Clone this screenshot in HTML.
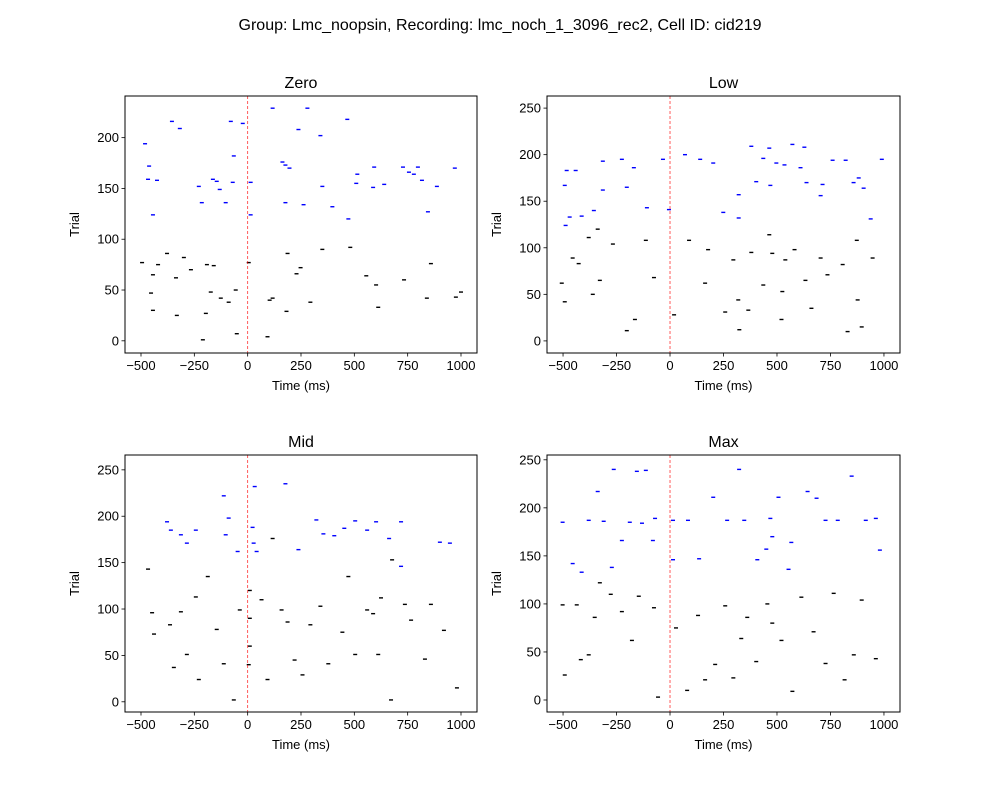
<!DOCTYPE html>
<html><head><meta charset="utf-8"><style>
body{margin:0;background:#fff}
svg text{font-family:"Liberation Sans","DejaVu Sans",sans-serif;fill:#000}
</style></head><body>
<svg id="fig" width="1000" height="800" xmlns="http://www.w3.org/2000/svg">
<rect width="1000" height="800" fill="#fff"/>
<text x="500" y="30" text-anchor="middle" font-size="16">Group: Lmc_noopsin, Recording: lmc_noch_1_3096_rec2, Cell ID: cid219</text>
</svg>
<script>
const xTicks=[-500,-250,0,250,500,750,1000];
const panelTitles=["Zero","Low","Mid","Max"];
const zeroBlue=[[-481,194],[-462,172],[-467,159],[-425,158],[-444,124],[-355,216],[-318,209],[-229,152],[-215,136],[-163,159],[-145,157],[-131,149],[-103,136],[-79,216],[-65,182],[-23,214],[-70,156],[14,156],[14,124],[117,229],[163,176],[177,173],[177,136],[238,208],[280,229],[262,134],[341,202],[350,152],[397,132],[467,218],[472,120],[509,155],[514,164],[588,151],[593,171],[640,154],[728,171],[756,166],[798,171],[817,158],[845,127],[887,152],[971,170],[779,164],[196,170]];
const zeroBlack=[[-495,77],[-444,65],[-420,75],[-453,47],[-444,30],[-378,86],[-336,62],[-299,82],[-266,70],[-191,75],[-159,74],[-173,48],[-126,42],[-89,38],[-51,7],[-196,27],[5,77],[103,40],[117,42],[182,29],[187,86],[229,66],[248,72],[294,38],[350,90],[481,92],[556,64],[602,55],[612,33],[733,60],[840,42],[859,76],[976,43],[1000,48],[93,4],[-210,1],[-332,25],[-56,50]];
const lowBlue=[[-492,167],[-483,183],[-469,133],[-441,183],[-413,134],[-356,140],[-314,162],[-314,193],[-225,195],[-202,165],[-169,186],[-108,143],[-33,195],[-5,141],[70,200],[141,195],[202,191],[249,138],[321,132],[321,157],[380,209],[403,171],[436,196],[464,207],[469,167],[497,191],[535,189],[572,211],[610,186],[638,170],[704,156],[760,194],[713,168],[821,194],[858,170],[905,164],[938,131],[990,195],[882,175],[628,208],[-488,124]];
const lowBlack=[[-506,62],[-492,42],[-455,89],[-427,83],[-380,111],[-338,120],[-328,65],[-361,50],[-267,104],[-202,11],[-164,23],[-113,108],[-75,68],[19,28],[89,108],[164,62],[178,98],[258,31],[296,87],[319,44],[324,12],[366,33],[380,95],[436,60],[464,114],[478,94],[521,23],[525,53],[539,87],[582,98],[633,65],[661,35],[704,89],[736,71],[807,82],[830,10],[873,108],[877,44],[896,15],[947,89]];
const midBlue=[[-378,194],[-360,185],[-313,180],[-285,171],[-243,185],[-112,222],[-89,198],[-47,162],[-103,180],[33,232],[23,188],[28,171],[42,162],[177,235],[238,164],[322,196],[355,181],[453,187],[504,195],[560,185],[602,194],[663,176],[719,194],[719,146],[901,172],[948,171],[406,179]];
const midBlack=[[-467,143],[-448,96],[-439,73],[-364,83],[-346,37],[-313,97],[-285,51],[-243,113],[-229,24],[-187,135],[-145,78],[-112,41],[-37,99],[-65,2],[65,110],[93,24],[159,99],[187,86],[220,45],[257,29],[294,83],[341,103],[378,41],[444,75],[472,135],[504,51],[560,99],[588,95],[612,51],[625,112],[672,2],[737,105],[766,88],[831,46],[859,105],[920,77],[981,15],[677,153],[117,176],[10,120],[10,90],[10,60],[5,40]];
const maxBlue=[[-502,185],[-455,142],[-413,133],[-380,187],[-338,217],[-310,186],[-272,138],[-263,240],[-225,166],[-188,185],[-155,238],[-131,184],[-113,239],[-80,166],[-70,189],[14,187],[14,146],[84,187],[136,147],[202,211],[267,187],[323,240],[347,187],[408,146],[469,189],[478,170],[507,211],[567,164],[643,217],[685,210],[727,187],[784,187],[849,233],[915,187],[962,189],[981,156],[554,136],[450,157]];
const maxBlack=[[-502,99],[-492,26],[-436,99],[-417,42],[-380,47],[-352,86],[-328,122],[-277,110],[-225,92],[-178,62],[-146,108],[-75,96],[-56,3],[28,75],[80,10],[131,88],[164,21],[211,37],[258,98],[296,23],[333,64],[361,86],[403,40],[455,100],[478,80],[521,62],[572,9],[614,107],[671,71],[727,38],[765,111],[816,21],[859,47],[896,104],[962,43]];
const zeroYTicks=[0,50,100,150,200];
const otherYTicks=[0,50,100,150,200,250];

const NS="http://www.w3.org/2000/svg";
const svg=document.getElementById('fig');
function mk(tag,attrs,parent){const e=document.createElementNS(NS,tag);for(const k in attrs)e.setAttribute(k,attrs[k]);(parent||svg).appendChild(e);return e;}
const panels=[
 {x0:125,y0:96,w:352,h:257,ylim:[-12,241],yt:zeroYTicks,blue:zeroBlue,black:zeroBlack},
 {x0:547,y0:96,w:353,h:257,ylim:[-13,263],yt:otherYTicks,blue:lowBlue,black:lowBlack},
 {x0:125,y0:455,w:352,h:257,ylim:[-11,266],yt:otherYTicks,blue:midBlue,black:midBlack},
 {x0:547,y0:455,w:353,h:257,ylim:[-12.5,255],yt:otherYTicks,blue:maxBlue,black:maxBlack}];
const xlim=[-575,1075];
panels.forEach((p,i)=>{
 const g=mk('g',{});
 
 
 const sx=v=>p.x0+(v-xlim[0])/(xlim[1]-xlim[0])*p.w;
 const sy=v=>p.y0+p.h-(v-p.ylim[0])/(p.ylim[1]-p.ylim[0])*p.h;
 const drawSpikes=(arr,col,nm)=>arr.forEach(d=>{
  const r=mk('rect',{x:sx(d[0])-2,y:sy(d[1])-0.7,width:4,height:1.4,fill:col},g);
  
  
 });
 drawSpikes(p.black,'#000','spike-black');
 drawSpikes(p.blue,'#0000ff','spike-blue');
 const ln=mk('line',{x1:sx(0),x2:sx(0),y1:p.y0,y2:p.y0+p.h,stroke:'#ff0000','stroke-width':0.8,'stroke-dasharray':'3,2','stroke-opacity':0.8},g);
 
 
 const fr=mk('rect',{x:p.x0,y:p.y0,width:p.w,height:p.h,fill:'none',stroke:'#000','stroke-width':1},g);
 
 
 xTicks.forEach(t=>{
  mk('line',{x1:sx(t),x2:sx(t),y1:p.y0+p.h,y2:p.y0+p.h+3.5,stroke:'#000','stroke-width':0.8},g);
  const tx=mk('text',{x:sx(t),y:p.y0+p.h+17,'text-anchor':'middle','font-size':13},g);
  tx.textContent=t<0?'\u2212'+(-t):t;
  
  
 });
 p.yt.forEach(t=>{
  mk('line',{x1:p.x0-3.5,x2:p.x0,y1:sy(t),y2:sy(t),stroke:'#000','stroke-width':0.8},g);
  const tx=mk('text',{x:p.x0-6,y:sy(t)+4.5,'text-anchor':'end','font-size':13},g);
  tx.textContent=t;
  
  
 });
 const xl=mk('text',{x:p.x0+p.w/2,y:p.y0+p.h+37,'text-anchor':'middle','font-size':13},g);
 xl.textContent='Time (ms)';
 
 
 const yl=mk('text',{x:0,y:0,'text-anchor':'middle','font-size':13,transform:`translate(${p.x0-46},${p.y0+p.h/2}) rotate(-90)`},g);
 yl.textContent='Trial';
 
 
 const tt=mk('text',{x:p.x0+p.w/2,y:p.y0-8,'text-anchor':'middle','font-size':16},g);
 tt.textContent=panelTitles[i];
 
 
});
</script>
</body></html>
